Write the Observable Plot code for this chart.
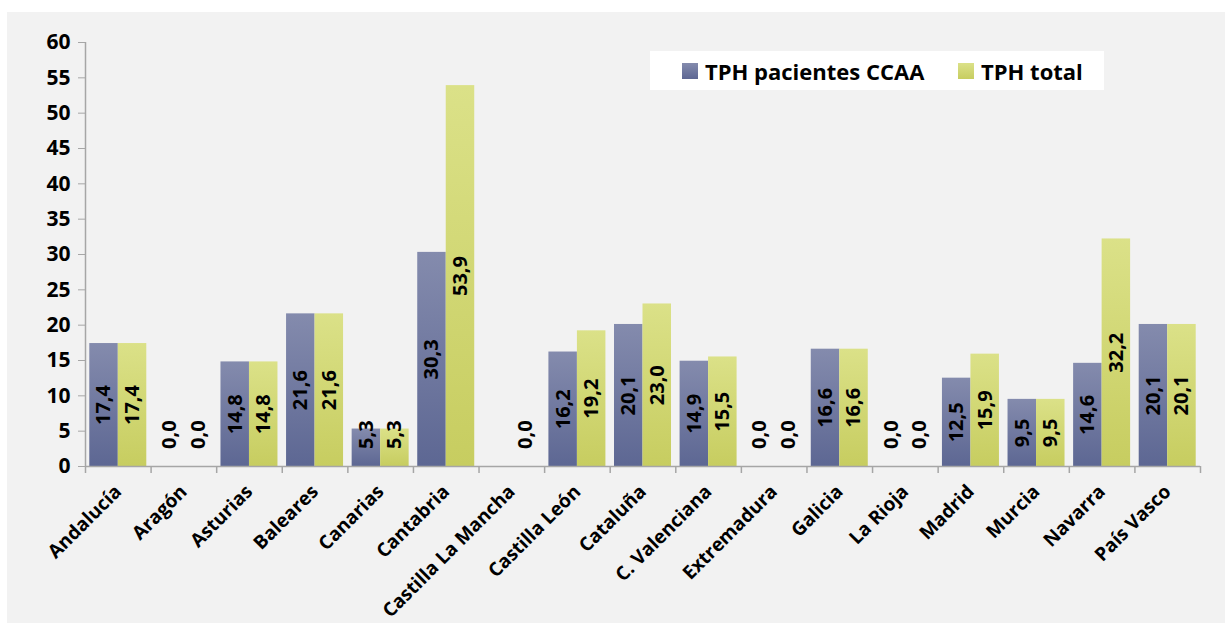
<!DOCTYPE html>
<html>
<head>
<meta charset="utf-8">
<script src="https://cdn.jsdelivr.net/npm/d3@7"></script>
<script src="https://cdn.jsdelivr.net/npm/@observablehq/plot@0.6"></script>
<style>
  html, body { margin: 0; padding: 0; background: #ffffff; }
  #panel { position: absolute; left: 7px; top: 12px; width: 1218px; height: 611px; background: #f2f2f2; overflow: hidden; }
  #legend { position: absolute; left: 643px; top: 39px; width: 454px; height: 39px; background: #ffffff;
            font-family: "Open Sans", Lato, sans-serif; font-weight: bold; font-size: 22px; color: #000; }
  .item { position: absolute; top: 0; height: 39px; display: flex; align-items: center; white-space: nowrap; }
  .sw { width: 16px; height: 16px; margin-right: 7px; }
</style>
</head>
<body>
<div id="panel">
  <div id="chart"></div>
  <div id="legend"></div>
</div>
<script>
// ---- data ----
const regions = ["Andalucía","Aragón","Asturias","Baleares","Canarias","Cantabria","Castilla La Mancha","Castilla León","Cataluña","C. Valenciana","Extremadura","Galicia","La Rioja","Madrid","Murcia","Navarra","País Vasco"];
const seriesNames = ["TPH pacientes CCAA","TPH total"];
const tphCCAA  = [17.4, 0.0, 14.8, 21.6, 5.3, 30.3, null, 16.2, 20.1, 14.9, 0.0, 16.6, 0.0, 12.5, 9.5, 14.6, 20.1];
const tphTotal = [17.4, 0.0, 14.8, 21.6, 5.3, 53.9, 0.0, 19.2, 23.0, 15.5, 0.0, 16.6, 0.0, 15.9, 9.5, 32.2, 20.1];
const yTicks = [0, 5, 10, 15, 20, 25, 30, 35, 40, 45, 50, 55, 60];

// ---- layout ----
const W = 1218, H = 611, ML = 78, MR = 25, MT = 30, MB = 157;
const step = (W - ML - MR) / regions.length;
const bw = 28.5;
const pad = (step - 2 * bw) / 2;
const minLabelY = 4.5;
const axisGrey = "#a6a6a6";
const FONT = "'Open Sans', Lato, sans-serif";

const rows = regions.flatMap((r, i) => [
  {region: r, series: seriesNames[0], value: tphCCAA[i]},
  {region: r, series: seriesNames[1], value: tphTotal[i]}
]).filter(d => d.value != null);
const rowsA = rows.filter(d => d.series === seriesNames[0]);
const rowsB = rows.filter(d => d.series === seriesNames[1]);
const fmt = v => v.toFixed(1).replace(".", ",");
const labelY = d => Math.max(d.value / 2, minLabelY);

const chart = Plot.plot({
  width: W, height: H,
  marginLeft: ML, marginRight: MR, marginTop: MT, marginBottom: MB,
  style: {fontFamily: FONT, fontSize: "20px", fontWeight: "bold", background: "transparent", color: "#000", overflow: "visible"},
  x: {type: "band", domain: regions, padding: 0, round: false, label: null},
  y: {domain: [0, 60], label: null},
  marks: [
    Plot.barY(rowsA.filter(d => d.value > 0), {x: "region", y: "value", fill: "url(#gBlue)", insetLeft: pad, insetRight: step - pad - bw}),
    Plot.barY(rowsB.filter(d => d.value > 0), {x: "region", y: "value", fill: "url(#gYellow)", insetLeft: pad + bw, insetRight: pad}),
    Plot.ruleY([0], {stroke: axisGrey, strokeWidth: 1.5}),
    Plot.ruleX([regions[0]], {y1: 0, y2: 60, dx: -step / 2, stroke: axisGrey, strokeWidth: 1.5}),
    Plot.ruleX(regions, {x: d => d, y1: 0, y2: 0, insetBottom: -7, dx: -step / 2, stroke: axisGrey, strokeWidth: 1.5}),
    Plot.ruleX([regions[regions.length - 1]], {y1: 0, y2: 0, insetBottom: -7, dx: step / 2, stroke: axisGrey, strokeWidth: 1.5}),
    Plot.axisY({ticks: yTicks, tickSize: 7, tickPadding: 8, stroke: axisGrey, fill: "#000", fontSize: 21, fontWeight: "bold", label: null}),
    Plot.axisX({tickSize: 0, tickRotate: -45, tickPadding: 22, fill: "#000", fontSize: 19, fontWeight: "bold", label: null}),
    Plot.text(rowsA, {x: "region", y: labelY, text: d => fmt(d.value), rotate: -90, dx: -bw / 2, fill: "#000", fontSize: 20, fontWeight: "bold", textAnchor: "middle", lineAnchor: "middle"}),
    Plot.text(rowsB, {x: "region", y: labelY, text: d => fmt(d.value), rotate: -90, dx: bw / 2, fill: "#000", fontSize: 20, fontWeight: "bold", textAnchor: "middle", lineAnchor: "middle"})
  ]
});

// gradients (per-bar, top light to bottom dark)
const defs = d3.select(chart).insert("defs", ":first-child");
function grad(id, top, bottom) {
  const g = defs.append("linearGradient").attr("id", id).attr("x1", 0).attr("y1", 0).attr("x2", 0).attr("y2", 1);
  g.append("stop").attr("offset", "0%").attr("stop-color", top);
  g.append("stop").attr("offset", "100%").attr("stop-color", bottom);
}
grad("gBlue", "#848bad", "#5d6793");
grad("gYellow", "#dbe188", "#c7cd60");
document.getElementById("chart").appendChild(chart);

// legend
const legend = document.getElementById("legend");
const swatchFills = ["linear-gradient(#848bad,#5d6793)", "linear-gradient(#dbe188,#c7cd60)"];
const legendLeft = [32, 308];
seriesNames.forEach((name, i) => {
  const it = document.createElement("div");
  it.className = "item";
  it.style.left = legendLeft[i] + "px";
  const sw = document.createElement("div");
  sw.className = "sw";
  sw.style.background = swatchFills[i];
  const tx = document.createElement("span");
  tx.textContent = name;
  it.appendChild(sw); it.appendChild(tx);
  legend.appendChild(it);
});
</script>
</body>
</html>
